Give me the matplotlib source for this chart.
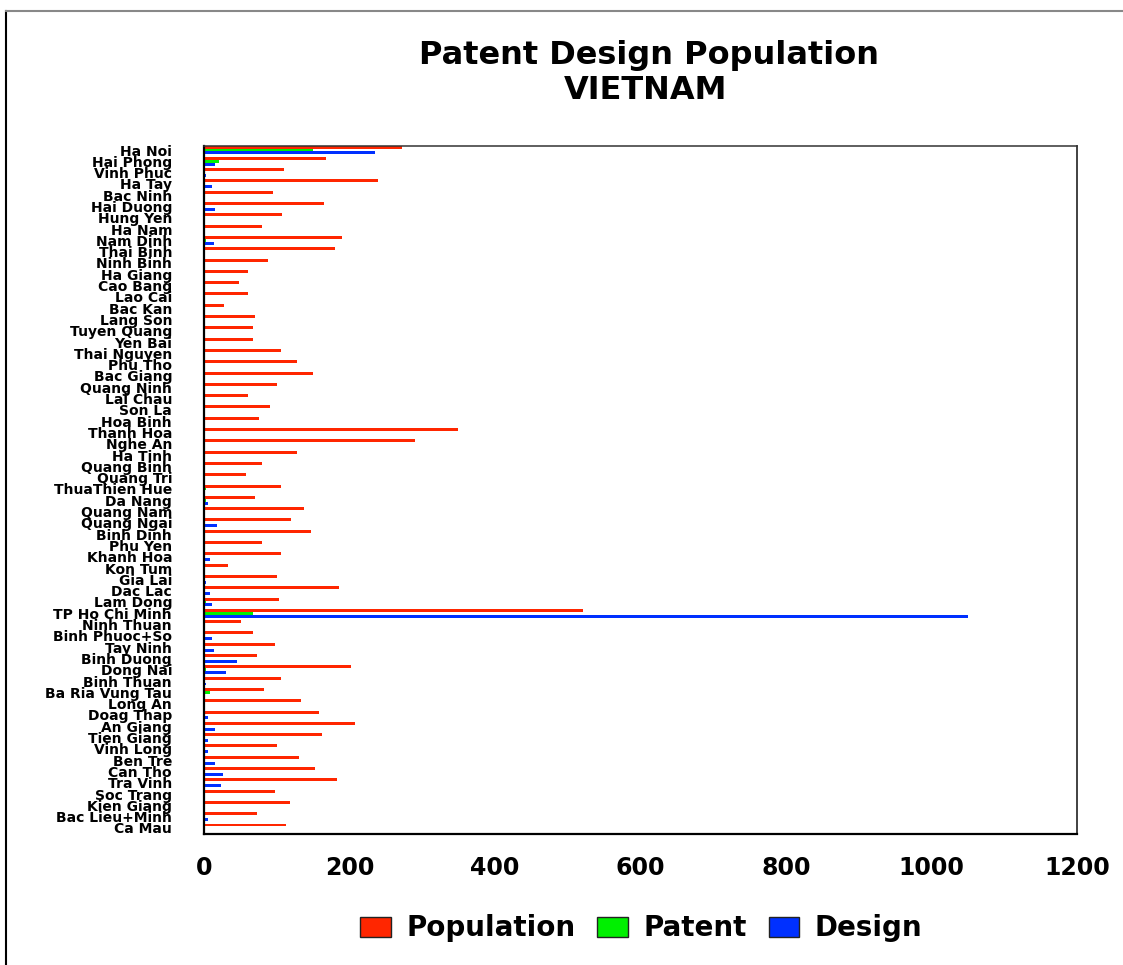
import numpy as np
import matplotlib
matplotlib.use("Agg")
import matplotlib.pyplot as plt
from matplotlib.lines import Line2D
from matplotlib.patches import Patch

provinces = [
    "Ha Noi", "Hai Phong", "Vinh Phuc", "Ha Tay", "Bac Ninh", "Hai Duong",
    "Hung Yen", "Ha Nam", "Nam Dinh", "Thai Binh", "Ninh Binh", "Ha Giang",
    "Cao Bang", "Lao Cai", "Bac Kan", "Lang Son", "Tuyen Quang", "Yen Bai",
    "Thai Nguyen", "Phu Tho", "Bac Giang", "Quang Ninh", "Lai Chau", "Son La",
    "Hoa Binh", "Thanh Hoa", "Nghe An", "Ha Tinh", "Quang Binh", "Quang Tri",
    "ThuaThien Hue", "Da Nang", "Quang Nam", "Quang Ngai", "Binh Dinh",
    "Phu Yen", "Khanh Hoa", "Kon Tum", "Gia Lai", "Dac Lac", "Lam Dong",
    "TP Ho Chi Minh", "Ninh Thuan", "Binh Phuoc+So", "Tay Ninh", "Binh Duong",
    "Dong Nai", "Binh Thuan", "Ba Ria Vung Tau", "Long An", "Doag Thap",
    "An Giang", "Tien Giang", "Vinh Long", "Ben Tre", "Can Tho", "Tra Vinh",
    "Soc Trang", "Kien Giang", "Bac Lieu+Minh", "Ca Mau",
]

population = [
    272, 168, 110, 239, 95, 165, 107, 80, 190, 180,
    88, 60, 48, 60, 27, 70, 67, 67, 106, 128,
    150, 100, 60, 91, 76, 349, 290, 128, 80, 58,
    106, 70, 137, 120, 147, 80, 106, 33, 100, 185,
    103, 521, 51, 67, 97, 73, 202, 106, 82, 133,
    158, 208, 162, 100, 131, 153, 183, 97, 118, 73,
    113,
]

patent = [
    150, 20, 0, 0, 0, 0, 0, 0, 2, 0,
    0, 0, 0, 0, 0, 0, 0, 0, 0, 0,
    0, 0, 0, 0, 0, 0, 0, 0, 0, 0,
    2, 2, 0, 0, 0, 0, 0, 0, 0, 0,
    2, 67, 0, 0, 0, 0, 2, 0, 8, 0,
    0, 0, 0, 0, 0, 0, 0, 0, 0, 0,
    0,
]

design = [
    235, 15, 2, 11, 0, 15, 0, 0, 14, 0,
    0, 0, 0, 0, 0, 0, 0, 0, 0, 0,
    0, 1.5, 0, 0, 0, 0, 0, 0, 0, 0,
    0, 5.5, 0, 18, 0, 0, 8, 0, 2, 8,
    11, 1050, 0, 11, 14, 45, 30, 2, 0, 0,
    5.5, 15, 5.5, 5.5, 15, 26, 23, 0, 0, 5.5,
    0,
]

x_ticks = [0, 200, 400, 600, 800, 1000, 1200]
series = ["Population", "Patent", "Design"]
COLORS = ["#ff2600", "#00f000", "#0030ff"]

FONT = "DejaVu Sans"

fig = plt.figure(figsize=(11.23, 9.65), dpi=100)
ax = fig.add_axes([0.1817, 0.1358, 0.9590 - 0.1817, 0.8487 - 0.1358])

y = np.arange(len(provinces))
h = 0.26
for off, vals, col in zip((-h, 0, h), (population, patent, design), COLORS):
    ax.barh(y + off, vals, height=h, color=col, linewidth=0)

ax.set_xlim(0, 1200)
ax.set_ylim(len(provinces) - 1 + 0.53, -0.354)
ax.set_yticks(y)
ax.set_yticklabels(provinces, fontsize=10, fontweight="bold", family=FONT)
ax.set_xticks(x_ticks)
ax.set_xticklabels([str(t) for t in x_ticks], fontsize=17,
                   fontweight="bold", family=FONT)
ax.tick_params(axis="y", length=0, pad=23)
ax.tick_params(axis="x", length=0, pad=16)

ax.spines["left"].set_linewidth(1.6)
ax.spines["bottom"].set_linewidth(1.6)
ax.spines["left"].set_color("black")
ax.spines["bottom"].set_color("black")
ax.spines["top"].set_linewidth(1.1)
ax.spines["right"].set_linewidth(1.3)
ax.spines["top"].set_color("#333333")
ax.spines["right"].set_color("#333333")

# titles
fig.text(0.578, 1 - 64 / 965, "Patent Design Population", ha="center",
         va="baseline", fontsize=23, fontweight="bold", family=FONT)
fig.text(0.575, 1 - 99 / 965, "VIETNAM", ha="center", va="baseline",
         fontsize=23, fontweight="bold", family=FONT)

# legend
handles = [Patch(facecolor=c, edgecolor="#222222", linewidth=1) for c in COLORS]
fig.legend(handles, series, loc="center", bbox_to_anchor=(0.571, 0.038),
           ncol=3, frameon=False, handlelength=1.1, handleheight=0.72,
           handletextpad=0.55, columnspacing=0.8,
           prop={"family": FONT, "weight": "bold", "size": 20})

# outer frame (partly cut by the image edge)
fig.add_artist(Line2D([6 / 1123, 6 / 1123], [0, 1 - 11 / 965],
                      transform=fig.transFigure, color="black", linewidth=1.5))
fig.add_artist(Line2D([6 / 1123, 1], [1 - 11 / 965, 1 - 11 / 965],
                      transform=fig.transFigure, color="#888888", linewidth=1.5))

fig.savefig("out.png", dpi=100)
